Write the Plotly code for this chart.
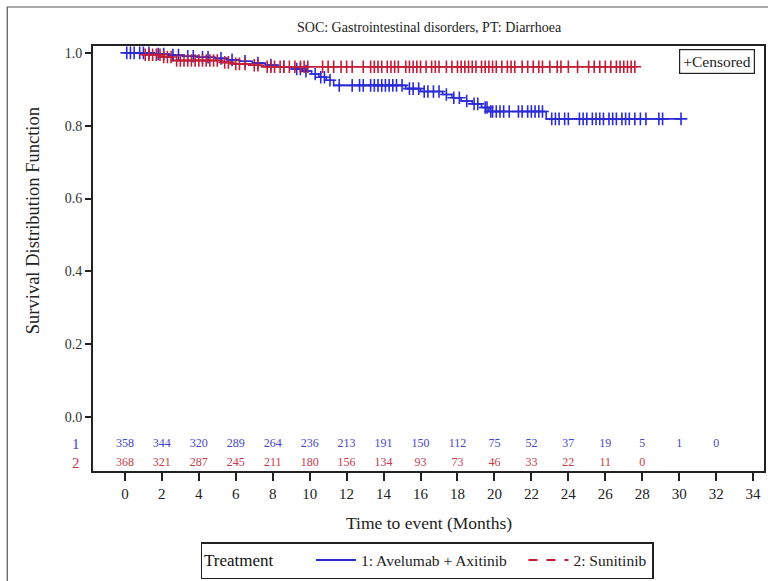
import numpy as np
import plotly.graph_objects as go

# ---- Kaplan-Meier step data (months, survival probability) ----
ave_time = [0, 1.5, 2.4, 3.2, 4.0, 4.9, 5.6, 6.2, 6.9, 7.6, 8.3, 9.0, 9.6, 10.1, 10.5,
            10.9, 11.3, 15.2, 16.0, 17.2, 17.7, 18.2, 18.8, 19.3, 19.7, 22.8, 30.1]
ave_surv = [1.0, 0.997, 0.994, 0.991, 0.988, 0.985, 0.981, 0.977, 0.972, 0.967, 0.962,
            0.956, 0.950, 0.942, 0.933, 0.925, 0.911, 0.902, 0.894, 0.886, 0.877, 0.868,
            0.860, 0.850, 0.839, 0.819, 0.819]

sun_time = [0, 1.0, 2.0, 2.6, 5.2, 5.8, 6.8, 7.4, 27.6]
sun_surv = [1.0, 0.995, 0.989, 0.979, 0.974, 0.970, 0.966, 0.962, 0.962]

# ---- censoring times ----
ave_cens = [0.1, 0.3, 0.5, 0.8, 1.0, 1.3, 1.8, 2.1, 2.6, 2.9, 3.4, 3.7, 4.2, 4.5, 5.2, 5.8,
            6.5, 7.2, 7.9, 8.6, 9.3, 9.5, 9.8, 10.3, 10.6, 10.8, 11.1, 11.6, 12.3, 12.7, 12.9,
            13.3, 13.5, 13.7, 13.9, 14.1, 14.3, 14.5, 14.7, 15.0, 15.4, 15.6, 15.9, 16.2,
            16.4, 16.7, 17.0, 17.4, 17.8, 18.1, 18.5, 18.9, 19.1, 19.5, 19.6, 19.8, 19.9,
            20.1, 20.3, 20.5, 20.8, 21.3, 21.5, 21.8, 22.0, 22.2, 22.4, 22.6, 23.1, 23.3,
            23.5, 23.8, 24.0, 24.6, 24.8, 25.0, 25.3, 25.5, 25.7, 25.9, 26.2, 26.4, 26.6,
            26.9, 27.1, 27.3, 27.6, 27.9, 28.2, 28.9, 29.1, 30.1]
sun_cens = [1.1, 1.3, 1.5, 1.7, 1.9, 2.1, 2.3, 2.5, 2.8, 3.0, 3.2, 3.4, 3.6, 3.8, 4.0, 4.2,
            4.4, 4.6, 4.8, 5.0, 5.4, 5.6, 6.0, 6.2, 6.5, 7.0, 7.2, 7.7, 7.9, 8.1, 8.4, 8.6,
            8.9, 9.2, 9.5, 9.7, 9.9, 10.7, 11.0, 11.3, 11.7, 12.0, 12.3, 12.9, 13.3, 13.5,
            13.7, 13.9, 14.2, 14.4, 14.6, 14.8, 15.2, 15.4, 15.6, 15.8, 16.0, 16.3, 16.6,
            16.8, 17.0, 17.4, 17.7, 18.0, 18.2, 18.4, 18.6, 18.8, 19.0, 19.3, 19.5, 19.7,
            19.9, 20.1, 20.4, 20.7, 20.9, 21.1, 21.5, 21.8, 22.1, 22.4, 22.6, 23.0, 23.4,
            23.6, 24.0, 24.5, 25.1, 25.4, 25.7, 26.0, 26.3, 26.6, 26.8, 27.0, 27.2, 27.4, 27.6]

# ---- number at risk ----
risk_time_ave = list(range(0, 34, 2))
risk_ave = [358, 344, 320, 289, 264, 236, 213, 191, 150, 112, 75, 52, 37, 19, 5, 1, 0]
risk_time_sun = list(range(0, 30, 2))
risk_sun = [368, 321, 287, 245, 211, 180, 156, 134, 93, 73, 46, 33, 22, 11, 0]

x_ticks = list(range(0, 36, 2))
y_ticks = [0.0, 0.2, 0.4, 0.6, 0.8, 1.0]

BLUE = "#2a2ad6"
RED = "#c21d36"
BLUE_TXT = "#4646c8"
RED_TXT = "#c83a4c"
FONT = "Liberation Serif"


def step_value(times, surv, t):
    idx = np.searchsorted(np.asarray(times), np.asarray(t), side="right") - 1
    return np.asarray(surv)[np.clip(idx, 0, len(surv) - 1)]


fig = go.Figure()

# survival curves
fig.add_trace(go.Scatter(x=ave_time, y=ave_surv, mode="lines", line_shape="hv",
                         line=dict(color=BLUE, width=1.6), showlegend=False))
fig.add_trace(go.Scatter(x=sun_time, y=sun_surv, mode="lines", line_shape="hv",
                         line=dict(color=RED, width=1.6), showlegend=False))

# censor marks
fig.add_trace(go.Scatter(x=ave_cens, y=step_value(ave_time, ave_surv, ave_cens), mode="markers",
                         marker=dict(symbol="cross-thin", size=9, line=dict(color=BLUE, width=1.6)),
                         showlegend=False))
fig.add_trace(go.Scatter(x=sun_cens, y=step_value(sun_time, sun_surv, sun_cens), mode="markers",
                         marker=dict(symbol="cross-thin", size=9, line=dict(color=RED, width=1.6)),
                         showlegend=False))

# legend entries
fig.add_trace(go.Scatter(x=[None], y=[None], mode="lines", name="1: Avelumab + Axitinib   ",
                         line=dict(color=BLUE, width=2)))
fig.add_trace(go.Scatter(x=[None], y=[None], mode="lines", name="2: Sunitinib",
                         line=dict(color=RED, width=2, dash="dash")))

# at-risk rows inside the plotting region
fig.add_trace(go.Scatter(x=risk_time_ave, y=[-0.074] * len(risk_ave), mode="text",
                         text=[str(v) for v in risk_ave],
                         textfont=dict(family=FONT, size=12, color=BLUE_TXT), showlegend=False))
fig.add_trace(go.Scatter(x=risk_time_sun, y=[-0.126] * len(risk_sun), mode="text",
                         text=[str(v) for v in risk_sun],
                         textfont=dict(family=FONT, size=12, color=RED_TXT), showlegend=False))

L, R, T, B = 93, 2, 46, 110
W, H = 768, 581
pw, ph = W - L - R, H - T - B


def px_x(p):
    return (p - L) / pw


def px_y(p):
    return (H - B - p) / ph


annotations = [
    dict(text="SOC: Gastrointestinal disorders, PT: Diarrhoea", xref="paper", yref="paper",
         x=px_x(431), y=px_y(27), xanchor="center", yanchor="middle", showarrow=False,
         font=dict(family=FONT, size=14, color="#222")),
    dict(text="Survival Distribution Function", xref="paper", yref="paper",
         x=px_x(33), y=px_y(221), xanchor="center", yanchor="middle", textangle=-90,
         showarrow=False, font=dict(family=FONT, size=18.5, color="#222")),
    dict(text="Time to event (Months)", xref="paper", yref="paper",
         x=px_x(430), y=px_y(523), xanchor="center", yanchor="middle", showarrow=False,
         font=dict(family=FONT, size=17.5, color="#222")),
    dict(text="1", xref="paper", yref="y", x=px_x(76), y=-0.074, xanchor="center",
         yanchor="middle", showarrow=False, font=dict(family=FONT, size=15, color=BLUE_TXT)),
    dict(text="2", xref="paper", yref="y", x=px_x(76), y=-0.126, xanchor="center",
         yanchor="middle", showarrow=False, font=dict(family=FONT, size=15, color=RED_TXT)),
    dict(text="+Censored", xref="paper", yref="paper", x=px_x(718.5), y=px_y(61.5),
         xanchor="center", yanchor="middle", showarrow=False, bordercolor="#222",
         borderwidth=1.2, borderpad=3, bgcolor="white",
         font=dict(family=FONT, size=15.5, color="#222")),
]

shapes = [
    dict(type="rect", xref="paper", yref="paper", x0=px_x(7), x1=px_x(800), y0=px_y(7),
         y1=px_y(640), line=dict(color="#555", width=1.2), layer="below"),
]

fig.update_layout(
    width=W, height=H,
    margin=dict(l=L, r=R, t=T, b=B),
    paper_bgcolor="white", plot_bgcolor="white",
    font=dict(family=FONT, color="#222"),
    annotations=annotations, shapes=shapes,
    legend=dict(orientation="h", x=px_x(428), xanchor="center", y=px_y(542), yanchor="top",
                bordercolor="#222", borderwidth=1.5, bgcolor="white", tracegroupgap=0,
                title=dict(text="Treatment       ", font=dict(family=FONT, size=17, color="#111")),
                font=dict(family=FONT, size=15.5, color="#222"), itemwidth=40),
)

fig.update_xaxes(range=[-1.727, 34.59], tickvals=x_ticks, ticktext=[str(v) for v in x_ticks],
                 ticks="outside", ticklen=8, tickwidth=2, tickcolor="#222",
                 showline=True, linecolor="#222", linewidth=2, mirror=True,
                 showgrid=False, zeroline=False,
                 tickfont=dict(family=FONT, size=15, color="#222"))
fig.update_yaxes(range=[-0.148, 1.019], tickvals=y_ticks, ticktext=[f"{v:.1f}" for v in y_ticks],
                 ticks="outside", ticklen=6, tickwidth=1.5, tickcolor="#222",
                 showline=True, linecolor="#222", linewidth=2, mirror=True,
                 showgrid=False, zeroline=False,
                 tickfont=dict(family=FONT, size=14, color="#333"))

fig.write_html("out.html")
